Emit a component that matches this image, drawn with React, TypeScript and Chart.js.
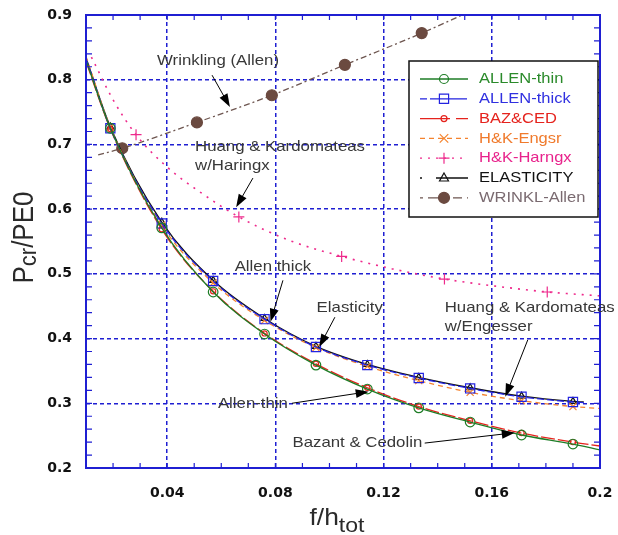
import React, { useEffect, useRef } from 'react';
import { Chart, registerables } from 'chart.js';
Chart.register(...registerables);

// ---------- data ----------
const xMain = [0.01, 0.019, 0.038, 0.057, 0.076, 0.095, 0.114, 0.133, 0.152, 0.171, 0.19, 0.2];
const allenThin = [0.83, 0.725, 0.571, 0.472, 0.407, 0.359, 0.322, 0.293, 0.271, 0.251, 0.237, 0.228];
const bazCed = [0.828, 0.724, 0.569, 0.473, 0.408, 0.361, 0.324, 0.295, 0.273, 0.254, 0.24, 0.234];
const hkEngsr = [0.836, 0.727, 0.575, 0.486, 0.428, 0.386, 0.357, 0.335, 0.317, 0.304, 0.295, 0.292];
const xThick = [0.01, 0.019, 0.038, 0.057, 0.076, 0.095, 0.114, 0.133, 0.152, 0.171, 0.19, 0.194];
const allenThick = [0.833, 0.725, 0.578, 0.489, 0.43, 0.387, 0.359, 0.339, 0.323, 0.31, 0.302, 0.301];
const elasticity = [0.834, 0.727, 0.58, 0.49, 0.431, 0.388, 0.36, 0.34, 0.324, 0.311, 0.303, 0.302];
const markerX = [0.019, 0.038, 0.057, 0.076, 0.095, 0.114, 0.133, 0.152, 0.171, 0.19];

const xHarngx = [0.012, 0.02, 0.0285, 0.04, 0.053, 0.0665, 0.085, 0.1045, 0.123, 0.1425, 0.1615, 0.1805, 0.2];
const hkHarngx = [0.835, 0.769, 0.715, 0.665, 0.624, 0.588, 0.552, 0.527, 0.508, 0.492, 0.481, 0.472, 0.466];
const harngxMarkX = [0.0285, 0.0665, 0.1045, 0.1425, 0.1805];

const xWrinkl = [0.0145, 0.0234, 0.051, 0.0787, 0.1057, 0.1341, 0.162];
const wrinklAllen = [0.684, 0.694, 0.734, 0.776, 0.823, 0.872, 0.925];
const wrinklMarkX = [0.0234, 0.051, 0.0787, 0.1057, 0.1341, 0.162];

const xTickLabels = ['0.04', '0.08', '0.12', '0.16', '0.2'];

// annotation texts with their anchor (data units) and arrows (data units)
const annotations = [
  { lines: ['Wrinkling (Allen)'], x: 0.0588, y: 0.829, align: 'center', arrow: [0.0566, 0.807, 0.0632, 0.758] },
  { lines: ['Huang & Kardomateas', 'w/Haringx'], x: 0.0503, y: 0.696, align: 'left', arrow: [0.0717, 0.648, 0.0655, 0.603] },
  { lines: ['Allen thick'], x: 0.0791, y: 0.5105, align: 'center', arrow: [0.0828, 0.49, 0.0782, 0.426] },
  { lines: ['Elasticity'], x: 0.1075, y: 0.447, align: 'center', arrow: [0.102, 0.433, 0.0962, 0.387] },
  { lines: ['Huang & Kardomateas', 'w/Engesser'], x: 0.1426, y: 0.447, align: 'left', arrow: [0.1733, 0.398, 0.165, 0.31] },
  { lines: ['Allen-thin'], x: 0.0717, y: 0.299, align: 'center', arrow: [0.0861, 0.3, 0.1145, 0.318] },
  { lines: ['Bazant & Cedolin'], x: 0.1103, y: 0.2385, align: 'center', arrow: [0.1352, 0.2385, 0.1685, 0.2545] },
];

const near = (v: number, list: number[]) => list.some((m) => Math.abs(m - v) < 1e-6);
const isMult = (v: number, s: number) => Math.abs(v / s - Math.round(v / s)) < 1e-6;
const pts = (xs: number[], ys: number[]) => xs.map((x, i) => ({ x, y: ys[i] }));

const TXT = '"Liberation Sans", Arial, sans-serif';
const GRID_BLUE = '#1f1fd2';

function drawMarker(ctx: CanvasRenderingContext2D, style: string, x: number, y: number, r: number, color: string, fill: boolean) {
  ctx.save();
  ctx.setLineDash([]);
  ctx.strokeStyle = color;
  ctx.fillStyle = fill ? color : 'rgba(255,255,255,0)';
  ctx.lineWidth = 1.2;
  ctx.beginPath();
  if (style === 'circle') {
    ctx.arc(x, y, r, 0, Math.PI * 2);
    ctx.fill();
    ctx.stroke();
  } else if (style === 'rect') {
    const s = r * Math.SQRT1_2;
    ctx.rect(x - s, y - s, 2 * s, 2 * s);
    ctx.stroke();
  } else if (style === 'cross') {
    ctx.moveTo(x - r, y); ctx.lineTo(x + r, y);
    ctx.moveTo(x, y - r); ctx.lineTo(x, y + r);
    ctx.stroke();
  } else if (style === 'crossRot') {
    const s = r * Math.SQRT1_2;
    ctx.moveTo(x - s, y - s); ctx.lineTo(x + s, y + s);
    ctx.moveTo(x - s, y + s); ctx.lineTo(x + s, y - s);
    ctx.stroke();
  } else if (style === 'triangle') {
    ctx.moveTo(x, y - r);
    ctx.lineTo(x + r * 0.9, y + r * 0.6);
    ctx.lineTo(x - r * 0.9, y + r * 0.6);
    ctx.closePath();
    ctx.stroke();
  }
  ctx.restore();
}

function stretchedText(ctx: CanvasRenderingContext2D, text: string, x: number, y: number, align: CanvasTextAlign, sx = 1.12) {
  ctx.save();
  ctx.translate(x, y);
  ctx.scale(sx, 1);
  ctx.textAlign = align;
  ctx.fillText(text, 0, 0);
  ctx.restore();
}

const framePlugin = {
  id: 'frame',
  afterDatasetsDraw(chart: any) {
    const { ctx, chartArea: ca, scales } = chart;
    ctx.save();
    ctx.strokeStyle = GRID_BLUE;
    ctx.lineWidth = 1.2;
    ctx.beginPath();
    for (let i = 1; i <= 20; i++) {
      const px = scales.x.getPixelForValue(i * 0.01);
      ctx.moveTo(px, ca.bottom); ctx.lineTo(px, ca.bottom - 5);
      ctx.moveTo(px, ca.top); ctx.lineTo(px, ca.top + 5);
    }
    for (let i = 10; i <= 45; i++) {
      const py = scales.y.getPixelForValue(i * 0.02);
      ctx.moveTo(ca.left, py); ctx.lineTo(ca.left + 6, py);
      ctx.moveTo(ca.right, py); ctx.lineTo(ca.right - 6, py);
    }
    ctx.stroke();
    ctx.lineWidth = 2;
    ctx.strokeRect(ca.left, ca.top, ca.right - ca.left, ca.bottom - ca.top);
    ctx.restore();
  },
};

const overlayPlugin = {
  id: 'overlay',
  afterDraw(chart: any) {
    const { ctx, chartArea: ca, scales } = chart;
    const X = (v: number) => scales.x.getPixelForValue(v);
    const Y = (v: number) => scales.y.getPixelForValue(v);

    // annotations
    ctx.save();
    ctx.fillStyle = '#383838';
    ctx.font = `15px ${TXT}`;
    ctx.textBaseline = 'middle';
    annotations.forEach((a) => {
      a.lines.forEach((t, i) => {
        stretchedText(ctx, t, X(a.x), Y(a.y) + i * 19, a.align as CanvasTextAlign);
      });
      const [x1, y1, x2, y2] = a.arrow;
      const p1 = [X(x1), Y(y1)];
      const p2 = [X(x2), Y(y2)];
      const ang = Math.atan2(p2[1] - p1[1], p2[0] - p1[0]);
      const L = 13, W = 4.5;
      ctx.strokeStyle = '#000';
      ctx.fillStyle = '#000';
      ctx.lineWidth = 1;
      ctx.beginPath();
      ctx.moveTo(p1[0], p1[1]);
      ctx.lineTo(p2[0] - Math.cos(ang) * L * 0.8, p2[1] - Math.sin(ang) * L * 0.8);
      ctx.stroke();
      ctx.beginPath();
      ctx.moveTo(p2[0], p2[1]);
      ctx.lineTo(p2[0] - Math.cos(ang) * L - Math.sin(ang) * W, p2[1] - Math.sin(ang) * L + Math.cos(ang) * W);
      ctx.lineTo(p2[0] - Math.cos(ang) * L + Math.sin(ang) * W, p2[1] - Math.sin(ang) * L - Math.cos(ang) * W);
      ctx.closePath();
      ctx.fill();
      ctx.fillStyle = '#383838';
    });
    ctx.restore();

    // legend
    const lx = ca.right - 191;
    const ly = ca.top + 46;
    const lw = 189, lh = 156;
    ctx.save();
    ctx.fillStyle = '#fff';
    ctx.fillRect(lx, ly, lw, lh);
    ctx.strokeStyle = '#111';
    ctx.lineWidth = 1.5;
    ctx.strokeRect(lx, ly, lw, lh);
    ctx.font = `15px ${TXT}`;
    ctx.textBaseline = 'middle';
    chart.data.datasets.forEach((ds: any, i: number) => {
      const ry = ly + 18 + i * 19.8;
      ctx.save();
      ctx.strokeStyle = ds.borderColor;
      ctx.lineWidth = 1.3;
      ctx.setLineDash(ds.legendDash || ds.borderDash || []);
      ctx.beginPath();
      ctx.moveTo(lx + 11, ry);
      ctx.lineTo(lx + 59, ry);
      ctx.stroke();
      ctx.restore();
      drawMarker(ctx, ds.pointStyle, lx + 35, ry, ds.legendRadius, ds.pointBorderColor, ds.markerFilled);
      ctx.fillStyle = ds.legendText;
      stretchedText(ctx, ds.label, lx + 70, ry, 'left', 1.1);
    });
    ctx.restore();

    // axis titles
    ctx.save();
    ctx.fillStyle = '#2a2a2a';
    const cx = (ca.left + ca.right) / 2 - 6;
    const by = ca.bottom + 57;
    ctx.font = `24px ${TXT}`;
    const w1 = ctx.measureText('f/h').width * 1.1;
    ctx.font = `21px ${TXT}`;
    const w2 = ctx.measureText('tot').width * 1.1;
    const sx0 = cx - (w1 + w2) / 2;
    ctx.textBaseline = 'alphabetic';
    ctx.font = `24px ${TXT}`;
    stretchedText(ctx, 'f/h', sx0, by, 'left', 1.1);
    ctx.font = `21px ${TXT}`;
    stretchedText(ctx, 'tot', sx0 + w1, by + 7, 'left', 1.1);

    // y title rotated
    const cy = (ca.top + ca.bottom) / 2 - 4;
    ctx.translate(33, cy);
    ctx.rotate(-Math.PI / 2);
    ctx.scale(1, 1.1);
    ctx.font = `26px ${TXT}`;
    const a1 = ctx.measureText('P').width;
    const a3 = ctx.measureText('/PE0').width;
    ctx.font = `22px ${TXT}`;
    const a2 = ctx.measureText('cr').width;
    let sx = -(a1 + a2 + a3) / 2;
    ctx.font = `26px ${TXT}`;
    ctx.fillText('P', sx, 0);
    sx += a1;
    ctx.font = `22px ${TXT}`;
    ctx.fillText('cr', sx, 3);
    sx += a2;
    ctx.font = `26px ${TXT}`;
    ctx.fillText('/PE0', sx, 0);
    ctx.restore();
  },
};

export default function App() {
  const ref = useRef<HTMLCanvasElement | null>(null);

  useEffect(() => {
    if (!ref.current) return;
    const base = {
      borderWidth: 1.3,
      pointBorderWidth: 1.2,
      cubicInterpolationMode: 'monotone' as const,
      fill: false,
    };
    const chart = new Chart(ref.current, {
      type: 'line',
      data: {
        datasets: [
          {
            ...base,
            label: 'ALLEN-thin',
            data: pts(xMain, allenThin),
            borderColor: '#1e7d26',
            pointBorderColor: '#1e7d26',
            pointBackgroundColor: 'rgba(255,255,255,0)',
            pointStyle: 'circle',
            pointRadius: (c: any) => (near(c.raw.x, markerX) ? 4.8 : 0),
            legendRadius: 4.5,
            legendText: '#2a8a2a',
            markerFilled: false,
          } as any,
          {
            ...base,
            label: 'ALLEN-thick',
            data: pts(xThick, allenThick),
            borderColor: '#2323e0',
            borderDash: [7, 3],
            legendDash: [7, 3, 30, 0],
            pointBorderColor: '#2323e0',
            pointBackgroundColor: 'rgba(255,255,255,0)',
            pointStyle: 'rect',
            pointRadius: (c: any) => (near(c.raw.x, markerX) ? 6.5 : 0),
            legendRadius: 6.5,
            legendText: '#3030e0',
            markerFilled: false,
          } as any,
          {
            ...base,
            label: 'BAZ&CED',
            data: pts(xMain, bazCed),
            borderColor: '#e5231d',
            borderDash: [14, 3],
            legendDash: [30, 6, 14, 0],
            pointBorderColor: '#e5231d',
            pointBackgroundColor: 'rgba(255,255,255,0)',
            pointStyle: 'circle',
            pointRadius: (c: any) => (near(c.raw.x, markerX) ? 2.6 : 0),
            legendRadius: 3,
            legendText: '#e5231d',
            markerFilled: false,
          } as any,
          {
            ...base,
            label: 'H&K-Engsr',
            data: pts(xMain, hkEngsr),
            borderColor: '#f5832e',
            borderDash: [5, 4],
            pointBorderColor: '#f5832e',
            pointStyle: 'crossRot',
            pointRadius: (c: any) => (near(c.raw.x, markerX) ? 5 : 0),
            legendRadius: 6,
            legendText: '#f07a2c',
            markerFilled: false,
          } as any,
          {
            ...base,
            label: 'H&K-Harngx',
            data: pts(xHarngx, hkHarngx),
            borderColor: '#ee2a8c',
            borderWidth: 1.6,
            borderDash: [2, 6],
            pointBorderColor: '#ee2a8c',
            pointStyle: 'cross',
            pointRadius: (c: any) => (near(c.raw.x, harngxMarkX) ? 5.5 : 0),
            legendRadius: 5.5,
            legendText: '#e8238c',
            markerFilled: false,
          } as any,
          {
            ...base,
            label: 'ELASTICITY',
            data: pts(xThick, elasticity),
            borderColor: '#111111',
            pointBorderColor: '#111111',
            pointBackgroundColor: 'rgba(255,255,255,0)',
            pointStyle: 'triangle',
            pointRadius: (c: any) => (near(c.raw.x, markerX) ? 4 : 0),
            legendDash: [2, 14, 40, 0],
            legendRadius: 5,
            legendText: '#111111',
            markerFilled: false,
          } as any,
          {
            ...base,
            label: 'WRINKL-Allen',
            data: pts(xWrinkl, wrinklAllen),
            borderColor: '#6e5650',
            borderDash: [6, 3, 2, 3],
            legendDash: [3, 5, 20, 5, 6, 0],
            pointBorderColor: '#6b4a40',
            pointBackgroundColor: '#6b4a40',
            pointStyle: 'circle',
            pointRadius: (c: any) => (near(c.raw.x, wrinklMarkX) ? 5.5 : 0),
            legendRadius: 5.5,
            legendText: '#7a6a70',
            markerFilled: true,
          } as any,
        ],
      },
      options: {
        animation: false,
        responsive: false,
        layout: { padding: { left: 0, top: 15, right: 18, bottom: 0 } },
        plugins: { legend: { display: false }, tooltip: { enabled: false } },
        scales: {
          x: {
            type: 'linear',
            min: 0.01,
            max: 0.2,
            afterFit: (s: any) => {
              s.height = 67;
              s.paddingLeft = 0;
              s.paddingRight = 0;
              s.paddingTop = 0;
              s.paddingBottom = 0;
            },
            grid: {
              drawTicks: false,
              lineWidth: 1.5,
              color: (c: any) => (c.tick && isMult(c.tick.value, 0.04) ? GRID_BLUE : 'rgba(0,0,0,0)'),
            },
            border: { display: false, dash: [4, 3] },
            ticks: {
              stepSize: 0.04,
              autoSkip: false,
              maxRotation: 0,
              padding: 17,
              color: '#111',
              font: { family: '"DejaVu Sans", sans-serif', weight: 'bold', size: 14 },
              callback: (v: any) => {
                const s = parseFloat(Number(v).toFixed(2)).toString();
                return xTickLabels.includes(s) ? s : '';
              },
            },
          },
          y: {
            type: 'linear',
            min: 0.2,
            max: 0.9,
            afterFit: (s: any) => {
              s.width = 86;
              s.paddingLeft = 0;
              s.paddingRight = 0;
              s.paddingTop = 0;
              s.paddingBottom = 0;
            },
            grid: { drawTicks: false, lineWidth: 1.5, color: GRID_BLUE },
            border: { display: false, dash: [4, 3] },
            ticks: {
              stepSize: 0.1,
              padding: 14,
              color: '#111',
              font: { family: '"DejaVu Sans", sans-serif', weight: 'bold', size: 14 },
              callback: (v: any) => Number(v).toFixed(1),
            },
          },
        },
      } as any,
      plugins: [framePlugin, overlayPlugin],
    });
    return () => chart.destroy();
  }, []);

  return (
    <div style={{ position: 'absolute', left: 0, top: 0, width: 618, height: 535, background: '#fff' }}>
      <canvas ref={ref} width={618} height={535} style={{ display: 'block' }} />
    </div>
  );
}
